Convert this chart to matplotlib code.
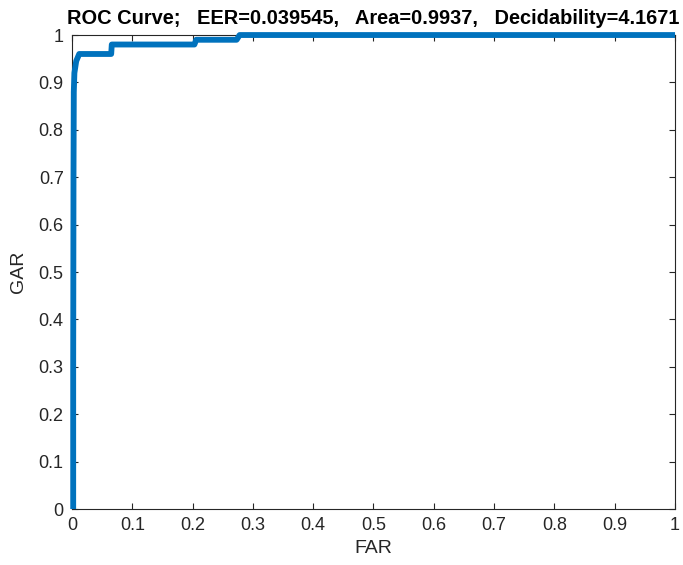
import matplotlib
matplotlib.use("Agg")
import matplotlib.pyplot as plt
import numpy as np

# ROC curve points
far = [0.002, 0.002, 0.0025, 0.003, 0.004, 0.007, 0.012, 0.065, 0.066, 0.203, 0.206, 0.273, 0.278, 1.0]
gar = [0.0, 0.30, 0.70, 0.88, 0.92, 0.945, 0.96, 0.96, 0.98, 0.98, 0.99, 0.99, 1.0, 1.0]

ticks = np.round(np.arange(0, 1.01, 0.1), 1)
tick_labels = ["0", "0.1", "0.2", "0.3", "0.4", "0.5", "0.6", "0.7", "0.8", "0.9", "1"]

plt.rcParams['font.family'] = ['Liberation Sans', 'DejaVu Sans']

fig = plt.figure(figsize=(6.83, 5.65), dpi=100)
ax = fig.add_axes([0.1054, 0.0991, 0.8829, 0.8389])

ax.plot(far, gar, color='#0072BD', linewidth=4.2, solid_joinstyle='round',
        solid_capstyle='butt', clip_on=False, zorder=5)
ax.set_xlim(0, 1)
ax.set_ylim(0, 1)
ax.set_xticks(ticks)
ax.set_xticklabels(tick_labels)
ax.set_yticks(ticks)
ax.set_yticklabels(tick_labels)

gray = '#262626'
for s in ax.spines.values():
    s.set_color(gray)
    s.set_linewidth(0.8)
ax.tick_params(direction='in', length=4, width=0.8, colors=gray, labelsize=13,
               top=True, right=True)
ax.tick_params(axis='x', pad=6)
ax.tick_params(axis='y', pad=6)

ax.set_xlabel('FAR', fontsize=14, color=gray, labelpad=4)
ax.set_ylabel('GAR', fontsize=14, color=gray, labelpad=8)
ax.set_title('ROC Curve;   EER=0.039545,   Area=0.9937,   Decidability=4.1671',
             fontsize=14.4, fontweight='bold', pad=8)

fig.savefig("out.png", dpi=100)
